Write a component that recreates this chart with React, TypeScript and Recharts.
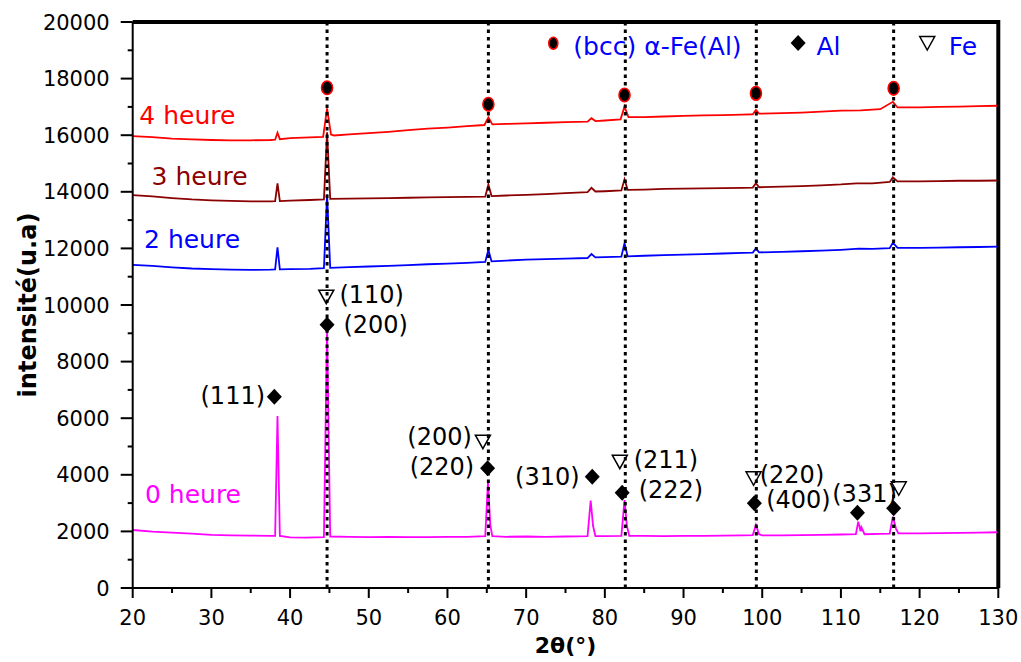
import React from 'react';
import { ComposedChart, Line, Scatter, XAxis, YAxis, ReferenceLine, Label } from 'recharts';

// ---- Data (2θ in degrees, intensity in u.a) ----
const h0: [number, number][] = [
  [20, 2050], [22.5, 1990], [25, 1960], [27.5, 1920], [30, 1880], [32.5, 1860], [35, 1850], [37.5, 1840],
  [38.1, 1840], [38.4, 6080], [38.7, 1840], [40, 1790], [42, 1780], [44.3, 1800], [44.7, 9200], [45.1, 1820],
  [47.5, 1810], [50, 1800], [52.5, 1810], [55, 1800], [57.5, 1800], [60, 1810], [62.5, 1810], [64.8, 1830],
  [65.15, 3760], [65.45, 2200], [65.7, 1830], [67.5, 1810], [70, 1820], [72.5, 1810], [75, 1820], [77.8, 1830],
  [78.2, 3090], [78.5, 2200], [78.8, 1830], [80, 1830], [82.1, 1840], [82.5, 3110], [82.8, 2200], [83.1, 1840],
  [85, 1840], [87.5, 1830], [90, 1840], [92.5, 1840], [95, 1850], [97.5, 1860], [98.8, 1870], [99.2, 2230],
  [99.6, 1900], [100, 1860], [102.5, 1860], [105, 1870], [107.5, 1880], [110, 1890], [111.9, 1900], [112.2, 2340],
  [112.5, 2000], [112.6, 2150], [113, 1900], [115, 1910], [116.2, 1920], [116.6, 2520], [117, 2100], [117.3, 1930],
  [120, 1930], [122.5, 1940], [125, 1950], [127.5, 1960], [130, 1970],
];

const h2: [number, number][] = [
  [20, 11420], [22.5, 11380], [25, 11330], [27.5, 11290], [30, 11270], [32.5, 11250], [35, 11240], [37.5, 11250],
  [38.1, 11260], [38.4, 12040], [38.7, 11260], [40, 11270], [42.5, 11280], [44.3, 11300], [44.7, 13900], [45.1, 11310],
  [47.5, 11340], [50, 11360], [52.5, 11380], [55, 11410], [57.5, 11440], [60, 11460], [62.5, 11490], [64.8, 11520],
  [65.2, 11950], [65.6, 11540], [67.5, 11570], [70, 11600], [72.5, 11620], [75, 11640], [77.8, 11660], [78.3, 11800],
  [78.8, 11680], [80, 11690], [82.1, 11710], [82.5, 12180], [82.9, 11720], [85, 11740], [87.5, 11760], [90, 11780],
  [92.5, 11800], [95, 11820], [97.5, 11840], [98.8, 11850], [99.2, 12000], [99.6, 11860], [102.5, 11880], [105, 11900],
  [107.5, 11920], [110, 11950], [112.3, 11990], [114, 11980], [116.2, 12010], [116.6, 12200], [117.2, 12020], [120, 12020],
  [122.5, 12030], [125, 12040], [127.5, 12050], [130, 12060],
];

const h3: [number, number][] = [
  [20, 13880], [22.5, 13840], [25, 13780], [27.5, 13730], [30, 13700], [32.5, 13680], [35, 13660], [37.5, 13660],
  [38.1, 13670], [38.4, 14300], [38.7, 13670], [40, 13690], [42.5, 13710], [44.3, 13730], [44.7, 16100], [45.1, 13750],
  [47.5, 13760], [50, 13770], [52.5, 13780], [55, 13790], [57.5, 13800], [60, 13810], [62.5, 13820], [64.8, 13830],
  [65.2, 14260], [65.6, 13850], [67.5, 13870], [70, 13890], [72.5, 13920], [75, 13950], [77.8, 13990], [78.3, 14140],
  [78.8, 14010], [80, 14020], [82.1, 14050], [82.5, 14440], [82.9, 14070], [85, 14080], [87.5, 14100], [90, 14110],
  [92.5, 14120], [95, 14130], [97.5, 14140], [98.8, 14150], [99.2, 14300], [99.6, 14160], [102.5, 14180], [105, 14200],
  [107.5, 14230], [110, 14260], [112, 14300], [114, 14300], [116.2, 14350], [116.6, 14510], [117.2, 14370], [120, 14370],
  [122.5, 14380], [125, 14390], [127.5, 14390], [130, 14400],
];

const h4: [number, number][] = [
  [20, 15970], [22.5, 15930], [25, 15880], [27.5, 15850], [30, 15830], [32.5, 15820], [35, 15820], [37.5, 15830],
  [38.1, 15840], [38.4, 16090], [38.7, 15860], [40, 15900], [42.5, 15920], [44.2, 15940], [44.7, 16950], [45.2, 16020],
  [45.6, 15990], [47.5, 16030], [50, 16070], [52.5, 16120], [55, 16180], [57.5, 16230], [60, 16270], [62.5, 16320],
  [64.7, 16360], [65.2, 16630], [65.7, 16380], [67.5, 16400], [70, 16420], [72.5, 16440], [75, 16460], [77.8, 16480],
  [78.3, 16600], [78.8, 16500], [80, 16520], [82.0, 16560], [82.5, 17010], [83, 16640], [85, 16640], [87.5, 16660],
  [90, 16680], [92.5, 16700], [95, 16710], [97.5, 16730], [98.8, 16740], [99.2, 16890], [99.6, 16760], [102.5, 16780],
  [105, 16800], [107.5, 16830], [110, 16870], [112.5, 16880], [115, 16920], [116.6, 17180], [117.2, 16980], [120, 16980],
  [122.5, 17000], [125, 17010], [127.5, 17030], [130, 17040],
];

// plot frame (top and right borders, in data units)
const frame: [number, number][] = [[20, 20000], [130, 20000], [130, 0]];

// peak position guides
const guideLines = [44.7, 65.2, 82.6, 99.25, 116.7];

// phase markers
const bccMarks: [number, number][] = [[44.7, 17676], [65.2, 17092], [82.5, 17420], [99.2, 17480], [116.7, 17657]];
const alMarks: [number, number][] = [[44.7, 9300], [38.0, 6760], [65.1, 4229], [78.4, 3934], [82.2, 3368], [99.0, 2992], [112.1, 2662], [116.7, 2815]];
const feMarks: [number, number][] = [[44.6, 10293], [64.5, 5170], [81.9, 4463], [98.9, 3876], [117.35, 3523]];

// legend symbols
const legendBcc: [number, number][] = [[73.45, 19248]];
const legendAl: [number, number][] = [[104.56, 19258]];
const legendFe: [number, number][] = [[120.97, 19258]];

// texts
const hklLabels = [
  { x: 46.27, y: 10353, t: '(110)', a: 'start' },
  { x: 46.78, y: 9293, t: '(200)', a: 'start' },
  { x: 36.82, y: 6795, t: '(111)', a: 'end' },
  { x: 63.1, y: 5347, t: '(200)', a: 'end' },
  { x: 63.4, y: 4287, t: '(220)', a: 'end' },
  { x: 76.79, y: 3934, t: '(310)', a: 'end' },
  { x: 83.66, y: 4523, t: '(211)', a: 'start' },
  { x: 84.3, y: 3488, t: '(222)', a: 'start' },
  { x: 99.68, y: 3993, t: '(220)', a: 'start' },
  { x: 100.5, y: 3110, t: '(400)', a: 'start' },
  { x: 108.9, y: 3320, t: '(331)', a: 'start' },
];
const seriesNames = ['0 heure', '2 heure', '3 heure', '4 heure'];
const seriesLabelPos: [number, number][] = [[21.56, 3315], [21.44, 12332], [22.4, 14565], [20.84, 16690]];
const legendLabels = [
  { x: 76.0, y: 19130, t: '(bcc) \u03b1-Fe(Al)', a: 'start' },
  { x: 106.9, y: 19130, t: 'Al', a: 'start' },
  { x: 123.7, y: 19130, t: 'Fe', a: 'start' },
];

const xTicks = [20, 25, 30, 35, 40, 45, 50, 55, 60, 65, 70, 75, 80, 85, 90, 95, 100, 105, 110, 115, 120, 125, 130];
const yTicks = [0, 1000, 2000, 3000, 4000, 5000, 6000, 7000, 8000, 9000, 10000, 11000, 12000, 13000, 14000, 15000, 16000, 17000, 18000, 19000, 20000];

const FONT = 'DejaVu Sans';
const seriesColors = ['#FF00FF', '#0000FF', '#8B0000', '#FF0000'];

const pts = (arr: [number, number][]) => arr.map(([x, y]) => ({ x, y }));

const BottomTick = (p: any) => {
  const v = p.payload.value;
  const major = v % 10 === 0;
  return (
    <g>
      <line x1={p.x} x2={p.x} y1={p.y} y2={p.y + (major ? 10 : 5)} stroke="#000" strokeWidth={2} />
      {major && (
        <text x={p.x} y={p.y + 37} textAnchor="middle" fontFamily={FONT} fontSize={21} fill="#000">{v}</text>
      )}
    </g>
  );
};
const TopTick = (p: any) => {
  const major = p.payload.value % 10 === 0;
  return <line x1={p.x} x2={p.x} y1={p.y} y2={p.y + (major ? 5 : 3)} stroke="#000" strokeWidth={1.5} />;
};
const LeftTick = (p: any) => {
  const v = p.payload.value;
  const major = v % 2000 === 0;
  return (
    <g>
      <line x1={p.x - (major ? 12 : 5)} x2={p.x} y1={p.y} y2={p.y} stroke="#000" strokeWidth={2} />
      {major && (
        <text x={p.x - 23} y={p.y + 7.6} textAnchor="end" fontFamily={FONT} fontSize={21} fill="#000">{v}</text>
      )}
    </g>
  );
};
const RightTick = (p: any) => {
  const major = p.payload.value % 2000 === 0;
  return <line x1={p.x - (major ? 5 : 3)} x2={p.x} y1={p.y} y2={p.y} stroke="#000" strokeWidth={1.5} />;
};

const CircleShape = (small: boolean) => (p: any) => (
  <ellipse cx={p.cx} cy={p.cy} rx={small ? 4.5 : 5.5} ry={small ? 6 : 6.8} fill="#000" stroke="#FF0000" strokeWidth={1.6} />
);
const DiamondShape = (p: any) => (
  <polygon points={`${p.cx},${p.cy - 8} ${p.cx + 7.5},${p.cy} ${p.cx},${p.cy + 8} ${p.cx - 7.5},${p.cy}`} fill="#000" />
);
const TriangleShape = (p: any) => (
  <polygon points={`${p.cx - 7.5},${p.cy - 6.5} ${p.cx + 7.5},${p.cy - 6.5} ${p.cx},${p.cy + 7}`} fill="none" stroke="#000" strokeWidth={1.5} />
);
const TextShape = (color: string, size: number) => (p: any) => (
  <text x={p.cx} y={p.cy} dy="0.35em" textAnchor={p.payload.a || 'start'} fontFamily={FONT} fontSize={size} fill={color}>
    {p.payload.t}
  </text>
);

export default function App() {
  const series = [h0, h2, h3, h4];
  return (
    <div style={{ position: 'absolute', left: 0, top: 0, width: 1021, height: 662, background: '#fff' }}>
      <ComposedChart width={1021} height={662} margin={{ top: 12, right: 12.7, bottom: 34, left: 72.7 }}>
        <XAxis
          xAxisId={0}
          dataKey="x"
          type="number"
          domain={[20, 130]}
          ticks={xTicks}
          interval={0}
          height={40}
          tickSize={0}
          tickMargin={0}
          tick={BottomTick}
          axisLine={{ stroke: '#000', strokeWidth: 2 }}
        >
          <Label
            content={(props: any) => {
              const vb = props.viewBox;
              return (
                <text x={vb.x + vb.width / 2} y={vb.y + 65} textAnchor="middle" fontFamily={FONT} fontWeight="bold" fontSize={22} fill="#000">
                  2θ(°)
                </text>
              );
            }}
          />
        </XAxis>
        <XAxis
          xAxisId="top"
          orientation="top"
          dataKey="x"
          type="number"
          domain={[20, 130]}
          ticks={xTicks}
          interval={0}
          height={10}
          tickSize={0}
          tickMargin={0}
          tick={TopTick}
          axisLine={{ stroke: '#000', strokeWidth: 2 }}
        />
        <YAxis
          yAxisId={0}
          dataKey="y"
          type="number"
          domain={[0, 20000]}
          ticks={yTicks}
          interval={0}
          width={60}
          tickSize={0}
          tickMargin={0}
          tick={LeftTick}
          axisLine={{ stroke: '#000', strokeWidth: 2 }}
        >
          <Label
            content={(props: any) => {
              const vb = props.viewBox;
              const cx = vb.x - 37;
              const cy = vb.y + vb.height / 2;
              return (
                <text transform={`translate(${cx},${cy}) rotate(-90)`} x={0} y={0} textAnchor="middle" fontFamily={FONT} fontWeight="bold" fontSize={24} fill="#000">
                  intensité(u.a)
                </text>
              );
            }}
          />
        </YAxis>
        <YAxis
          yAxisId="right"
          orientation="right"
          dataKey="y"
          type="number"
          domain={[0, 20000]}
          ticks={yTicks}
          interval={0}
          width={10}
          tickSize={0}
          tickMargin={0}
          tick={RightTick}
          axisLine={{ stroke: '#000', strokeWidth: 2 }}
        />

        <Line
          data={pts(frame)}
          dataKey="y"
          type="linear"
          stroke="#000"
          strokeWidth={4}
          dot={false}
          activeDot={false}
          isAnimationActive={false}
        />

        {series.map((s, i) => (
          <Line
            key={seriesNames[i]}
            data={pts(s)}
            dataKey="y"
            type="linear"
            stroke={seriesColors[i]}
            strokeWidth={1.8}
            dot={false}
            activeDot={false}
            isAnimationActive={false}
          />
        ))}

        {guideLines.map((g) => (
          <ReferenceLine key={g} x={g} stroke="#000" strokeWidth={3} strokeDasharray="3.5 4" />
        ))}

        <Scatter data={pts(bccMarks)} shape={CircleShape(false)} isAnimationActive={false} />
        <Scatter data={pts(legendBcc)} shape={CircleShape(true)} isAnimationActive={false} />
        <Scatter data={pts(alMarks.concat(legendAl))} shape={DiamondShape} isAnimationActive={false} />
        <Scatter data={pts(feMarks.concat(legendFe))} shape={TriangleShape} isAnimationActive={false} />
        <Scatter data={hklLabels} shape={TextShape('#000', 24)} isAnimationActive={false} />
        <Scatter data={legendLabels} shape={TextShape('#0000FF', 25)} isAnimationActive={false} />
        {seriesNames.map((n, i) => (
          <Scatter
            key={'lbl' + n}
            data={[{ x: seriesLabelPos[i][0], y: seriesLabelPos[i][1], t: n, a: 'start' }]}
            shape={TextShape(seriesColors[i], 25)}
            isAnimationActive={false}
          />
        ))}
      </ComposedChart>
    </div>
  );
}
